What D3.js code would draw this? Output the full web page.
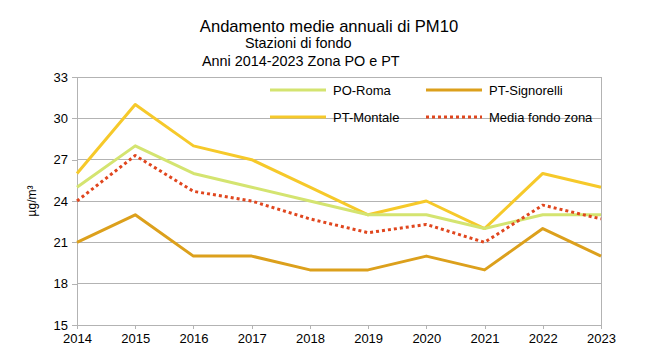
<!DOCTYPE html>
<html><head><meta charset="utf-8">
<script src="https://cdn.jsdelivr.net/npm/d3@7"></script>
<style>body{margin:0;background:#fff}svg{display:block;font-family:"Liberation Sans",Arial,sans-serif}</style>
</head><body><svg id="c" width="656" height="359"></svg>
<script>
const years = [2014,2015,2016,2017,2018,2019,2020,2021,2022,2023];
const poRoma = [25,28,26,25,24,23,23,22,23,23];
const ptSignorelli = [21,23,20,20,19,19,20,19,22,20];
const ptMontale = [26,31,28,27,25,23,24,22,26,25];
const mediaFondo = [24,27.3,24.7,24,22.7,21.7,22.3,21,23.7,22.7];
const yTicks = [15,18,21,24,27,30,33];

const series = [
  {name:"PO-Roma", values:poRoma, color:"#d4e470", dash:null},
  {name:"PT-Signorelli", values:ptSignorelli, color:"#dca01c", dash:null},
  {name:"PT-Montale", values:ptMontale, color:"#f6c92a", dash:null},
  {name:"Media fondo zona", values:mediaFondo, color:"#e0461e", dash:"3,3"}
];
const drawOrder = [2,0,1,3];

const svg = d3.select("#c");
const L=77,R=601,T=77,B=325;
const x = d3.scalePoint().domain(years).range([L,R]);
const y = d3.scaleLinear().domain([15,33]).range([B,T]);

svg.append("g").selectAll("line").data(yTicks).join("line")
  .attr("x1",L).attr("x2",R).attr("y1",d=>y(d)).attr("y2",d=>y(d))
  .attr("stroke","#b3b3b3").attr("stroke-width",1).attr("shape-rendering","crispEdges");
svg.append("line").attr("x1",R).attr("x2",R).attr("y1",T).attr("y2",B)
  .attr("stroke","#b3b3b3").attr("shape-rendering","crispEdges");

const ya = svg.append("g").attr("transform",`translate(${L},0)`)
  .call(d3.axisLeft(y).tickValues(yTicks).tickSize(5).tickPadding(4));
const xa = svg.append("g").attr("transform",`translate(0,${B})`)
  .call(d3.axisBottom(x).tickSize(4).tickPadding(5).tickFormat(d3.format("d")));
[ya,xa].forEach(a=>{
  a.selectAll("path,line").attr("stroke","#b3b3b3").attr("shape-rendering","crispEdges");
  a.selectAll("text").attr("fill","#000").style("font-size","13px").style("font-family","'Liberation Sans',Arial,sans-serif");
});
xa.select(".domain").remove();
svg.append("line").attr("x1",L).attr("x2",R).attr("y1",B).attr("y2",B).attr("stroke","#b3b3b3").attr("shape-rendering","crispEdges");

const line = d3.line().x((d,i)=>x(years[i])).y(d=>y(d));
drawOrder.forEach(i=>{
  const s=series[i];
  svg.append("path").attr("d",line(s.values)).attr("fill","none")
    .attr("stroke",s.color).attr("stroke-width",3).attr("stroke-linejoin","round")
    .attr("stroke-dasharray",s.dash);
});

const legPos = [[270,90],[426,90],[270,117],[426,117]];
series.forEach((s,i)=>{
  const [lx,ly]=legPos[i];
  svg.append("line").attr("x1",lx).attr("x2",lx+56).attr("y1",ly).attr("y2",ly)
    .attr("stroke",s.color).attr("stroke-width",3).attr("stroke-dasharray",s.dash);
  svg.append("text").attr("x",lx+63).attr("y",ly+5).text(s.name).style("font-size","13px");
});

svg.append("text").attr("x",329).attr("y",32).attr("text-anchor","middle").style("font-size","16.6px").text("Andamento medie annuali di PM10");
svg.append("text").attr("x",245).attr("y",47.5).style("font-size","14.4px").text("Stazioni di fondo");
svg.append("text").attr("x",202).attr("y",66).style("font-size","14.4px").text("Anni 2014-2023 Zona PO e PT");
svg.append("text").attr("transform","translate(36,201) rotate(-90)").attr("text-anchor","middle").style("font-size","12px").text("µg/m³");
</script></body></html>
